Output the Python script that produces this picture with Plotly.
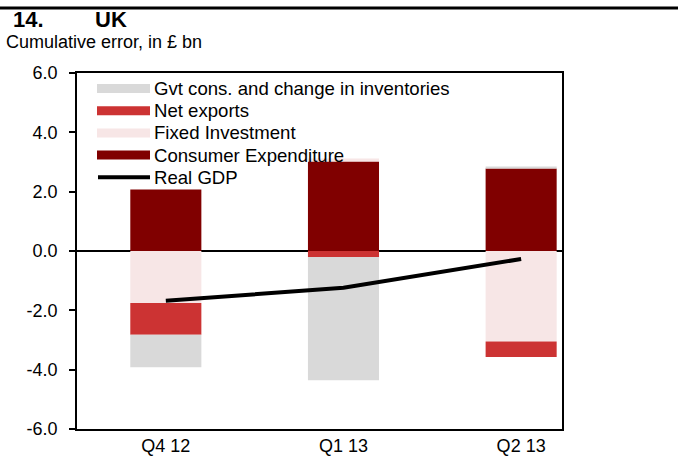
import plotly.graph_objects as go

categories = ["Q4 12", "Q1 13", "Q2 13"]
consumer_expenditure = [2.07, 3.02, 2.78]
fixed_investment = [-1.75, 0.10, -3.05]
net_exports = [-1.07, -0.20, -0.52]
gvt_cons = [-1.10, -4.16, 0.07]
real_gdp = [-1.68, -1.24, -0.27]
yticks = [-6, -4, -2, 0, 2, 4, 6]

FONT = "Liberation Sans"
c_gvt = "#D9D9D9"
c_nx = "#CC3333"
c_fi = "#F7E6E6"
c_ce = "#800000"

W, H = 678, 457
ML, MR, MT, MB = 77, 116, 73, 28

fig = go.Figure()
bar_series = [
    ("Consumer Expenditure", consumer_expenditure, c_ce),
    ("Fixed Investment", fixed_investment, c_fi),
    ("Net exports", net_exports, c_nx),
    ("Gvt cons. and change in inventories", gvt_cons, c_gvt),
]
for name, vals, col in bar_series:
    fig.add_trace(go.Bar(x=categories, y=vals, name=name, marker_color=col,
                         marker_line_width=0, width=0.40, showlegend=False))

fig.add_trace(go.Scatter(x=categories, y=real_gdp, mode="lines", name="Real GDP",
                         line=dict(color="black", width=4), showlegend=False))

fig.update_layout(
    barmode="relative",
    width=W, height=H,
    margin=dict(l=ML, r=MR, t=MT, b=MB),
    plot_bgcolor="white", paper_bgcolor="white",
    font=dict(family=FONT, size=18, color="black"),
    showlegend=False,
    xaxis=dict(range=[-0.5, 2.23], showline=True, linecolor="black", linewidth=1.5,
               mirror=True, ticks="", tickfont=dict(size=18), showgrid=False,
               automargin=False, ticklabelstandoff=0),
    yaxis=dict(range=[-6, 6], tickvals=yticks, ticktext=[f"{v:.1f}" for v in yticks],
               showline=True, linecolor="black", linewidth=1.5, mirror=True,
               ticks="outside", ticklen=6, tickwidth=1.5, tickcolor="black",
               showgrid=False, zeroline=True, zerolinecolor="black", zerolinewidth=2,
               tickfont=dict(size=18), automargin=False, ticklabelstandoff=8),
)

ph = H - MT - MB
pw = W - ML - MR
def py(pix):
    return (H - MB - pix) / ph
def px(pix):
    return (pix - ML) / pw

# header
fig.add_shape(type="line", xref="paper", yref="paper", x0=px(0), x1=px(W),
              y0=py(8), y1=py(8), line=dict(color="black", width=3))
fig.add_annotation(text="<b>14.</b>", xref="paper", yref="paper", x=px(11), y=py(19.5),
                   xanchor="left", yanchor="middle", showarrow=False,
                   font=dict(size=22, family=FONT))
fig.add_annotation(text="<b>UK</b>", xref="paper", yref="paper", x=px(93), y=py(19.5),
                   xanchor="left", yanchor="middle", showarrow=False,
                   font=dict(size=22, family=FONT))
fig.add_annotation(text="Cumulative error, in £ bn", xref="paper", yref="paper",
                   x=px(4), y=py(42), xanchor="left", yanchor="middle", showarrow=False,
                   font=dict(size=18, family=FONT))

# legend (drawn in pixel positions to match the original spacing)
legend_items = [
    ("Gvt cons. and change in inventories", c_gvt, "bar"),
    ("Net exports", c_nx, "bar"),
    ("Fixed Investment", c_fi, "bar"),
    ("Consumer Expenditure", c_ce, "bar"),
    ("Real GDP", "black", "line"),
]
row0, rowstep = 88.5, 22.2
for i, (name, col, kind) in enumerate(legend_items):
    yc = row0 + i * rowstep
    if kind == "bar":
        fig.add_shape(type="rect", xref="paper", yref="paper", x0=px(97), x1=px(150),
                      y0=py(yc - 4.5), y1=py(yc + 4.5), line=dict(width=0),
                      fillcolor=col, layer="above")
    else:
        fig.add_shape(type="line", xref="paper", yref="paper", x0=px(98), x1=px(150),
                      y0=py(yc), y1=py(yc), line=dict(color=col, width=4),
                      layer="above")
    fig.add_annotation(text=name, xref="paper", yref="paper", x=px(152), y=py(yc),
                       xanchor="left", yanchor="middle", showarrow=False,
                       font=dict(size=18.6, family=FONT))

fig.write_html("out.html", post_script="document.body.style.margin='0';",
               config={"displayModeBar": False})
